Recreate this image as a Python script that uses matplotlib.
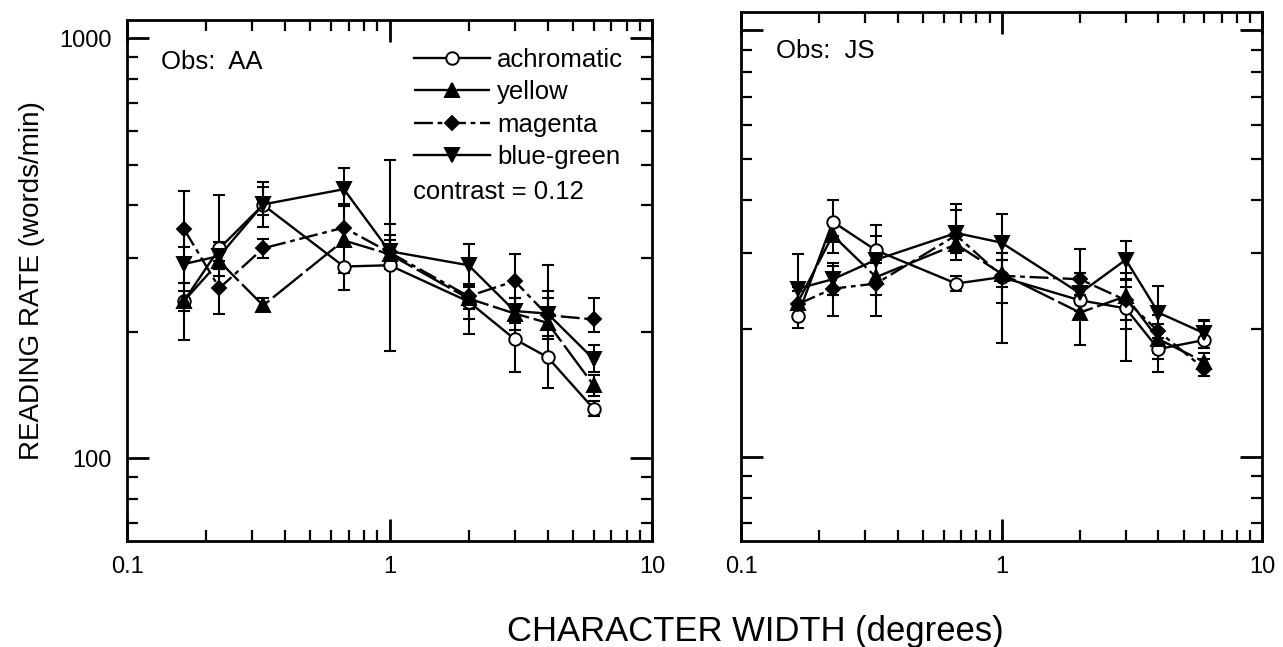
import numpy as np
import matplotlib.pyplot as plt
from matplotlib.ticker import LogLocator, NullFormatter, FixedLocator, FixedFormatter

plt.rc("font", family=["Liberation Sans", "DejaVu Sans"])

# character width (degrees)
width_deg = [0.165, 0.225, 0.33, 0.67, 1.0, 2.0, 3.0, 4.0, 6.0]

# Obs: AA  (reading rate, words/min; lo / hi = error bar ends)
aa_achromatic = [237, 316, 401, 286, 288, 236, 192, 174, 131]
aa_achromatic_lo = [191, 295, 355, 251, 180, 215, 160, 147, 126]
aa_achromatic_hi = [262, 424, 442, 320, 512, 260, 215, 195, 137]
aa_yellow = [237, 294, 231, 330, 306, 240, 221, 210, 149]
aa_yellow_lo = [224, 272, 224, 276, 282, 226, 202, 192, 141]
aa_yellow_hi = [250, 318, 240, 398, 362, 256, 240, 250, 158]
aa_magenta = [351, 254, 316, 354, 309, 243, 264, 219, 214]
aa_magenta_lo = [300, 221, 300, 322, 292, 230, 229, 202, 200]
aa_magenta_hi = [433, 282, 333, 398, 330, 258, 307, 240, 241]
aa_bluegreen = [290, 303, 402, 437, 311, 288, 224, 221, 172]
aa_bluegreen_lo = [262, 282, 380, 404, 292, 198, 210, 205, 160]
aa_bluegreen_hi = [318, 328, 454, 490, 340, 323, 240, 288, 186]

# Obs: JS
js_achromatic = [214, 356, 305, 255, 264, 233, 223, 179, 188]
js_achromatic_lo = [201, 330, 285, 245, 230, 220, 200, 170, 180]
js_achromatic_hi = [228, 400, 330, 266, 300, 250, 250, 190, 209]
js_yellow = [230, 331, 264, 315, 269, 218, 238, 189, 167]
js_yellow_lo = [215, 300, 240, 290, 250, 183, 210, 175, 160]
js_yellow_hi = [245, 360, 290, 340, 290, 250, 270, 205, 175]
js_magenta = [228, 248, 255, 331, 266, 261, 233, 197, 161]
js_magenta_lo = [212, 214, 214, 300, 185, 240, 168, 180, 155]
js_magenta_hi = [250, 280, 300, 392, 300, 308, 260, 215, 170]
js_bluegreen = [248, 261, 290, 335, 318, 242, 290, 218, 195]
js_bluegreen_lo = [230, 240, 260, 300, 290, 220, 262, 158, 185]
js_bluegreen_hi = [299, 285, 349, 380, 371, 270, 321, 252, 208]

names = ["achromatic", "yellow", "magenta", "blue-green"]
styles = [
    dict(marker="o", ms=9, mfc="white", ls="-"),
    dict(marker="^", ms=10.5, mfc="black", ls=(0, (16, 2))),
    dict(marker="D", ms=7.5, mfc="black", ls=(0, (8, 2, 2, 2))),
    dict(marker="v", ms=10.5, mfc="black", ls="-"),
]

fig = plt.figure(figsize=(12.83, 6.47), dpi=100)
ax1 = fig.add_axes([127 / 1283, 1 - 541 / 647, 525 / 1283, 521 / 647])
ax2 = fig.add_axes([741 / 1283, 1 - 541 / 647, 521 / 1283, 529 / 647])

panels = [
    (ax1, "Obs:  AA", (0.064, 0.919),
     [(aa_achromatic, aa_achromatic_lo, aa_achromatic_hi),
      (aa_yellow, aa_yellow_lo, aa_yellow_hi),
      (aa_magenta, aa_magenta_lo, aa_magenta_hi),
      (aa_bluegreen, aa_bluegreen_lo, aa_bluegreen_hi)]),
    (ax2, "Obs:  JS", (0.068, 0.927),
     [(js_achromatic, js_achromatic_lo, js_achromatic_hi),
      (js_yellow, js_yellow_lo, js_yellow_hi),
      (js_magenta, js_magenta_lo, js_magenta_hi),
      (js_bluegreen, js_bluegreen_lo, js_bluegreen_hi)]),
]

x = np.array(width_deg)
for ax, obs, obs_xy, series in panels:
    for name, st, (y, lo, hi) in zip(names, styles, series):
        y, lo, hi = np.array(y), np.array(lo), np.array(hi)
        ax.errorbar(x, y, yerr=[y - lo, hi - y], fmt="none", ecolor="black",
                    elinewidth=1.5, capsize=4, capthick=1.5, zorder=2)
        ax.plot(x, y, color="black", lw=1.7, ls=st["ls"], marker=st["marker"],
                ms=st["ms"], mfc=st["mfc"], mec="black", mew=1.4,
                label=name, zorder=3)

    ax.set_xscale("log")
    ax.set_yscale("log")
    ax.set_xlim(0.1, 10)
    ax.set_ylim(63.5, 1105)

    ax.xaxis.set_major_locator(FixedLocator([0.1, 1, 10]))
    ax.xaxis.set_major_formatter(FixedFormatter(["0.1", "1", "10"]))
    ax.xaxis.set_minor_locator(LogLocator(base=10, subs=np.arange(2, 10)))
    ax.xaxis.set_minor_formatter(NullFormatter())
    ax.yaxis.set_major_locator(FixedLocator([100, 1000]))
    ax.yaxis.set_minor_locator(LogLocator(base=10, subs=np.arange(2, 10)))
    ax.yaxis.set_minor_formatter(NullFormatter())
    if ax is ax1:
        ax.yaxis.set_major_formatter(FixedFormatter(["100", "1000"]))
    else:
        ax.yaxis.set_major_formatter(NullFormatter())

    ax.tick_params(which="both", direction="in", top=True, right=True,
                   labelsize=17, pad=11)
    ax.tick_params(which="major", length=16, width=2)
    ax.tick_params(which="minor", length=8, width=1.6)
    for sp in ax.spines.values():
        sp.set_linewidth(2)

    ax.text(obs_xy[0], obs_xy[1], obs, transform=ax.transAxes, fontsize=18.5,
            ha="left", va="center")

leg = ax1.legend(loc="upper left", bbox_to_anchor=(0.547, 0.946), frameon=False,
                 fontsize=18.5, handlelength=2.96, handletextpad=0.27,
                 labelspacing=0.32, borderpad=0, borderaxespad=0)
ax1.text(0.544, 1 - 0.33, "contrast = 0.12", transform=ax1.transAxes,
         fontsize=18.5, ha="left", va="center")

fig.text(31.7 / 1283, 1 - 281 / 647, "READING RATE (words/min)", rotation=90,
         fontsize=20, ha="center", va="center")
fig.text(755 / 1283, 1 - 632 / 647, "CHARACTER WIDTH (degrees)",
         fontsize=24.9, ha="center", va="center")

fig.savefig("out.png", dpi=100)
